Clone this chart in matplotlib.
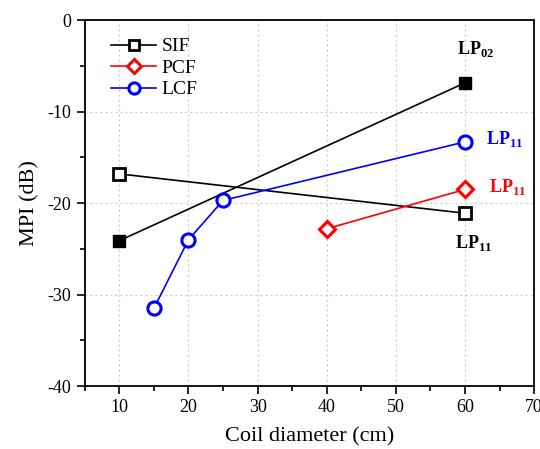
import matplotlib
matplotlib.use("Agg")
import matplotlib.pyplot as plt
from matplotlib.ticker import MultipleLocator

plt.rcParams['font.family'] = ['Liberation Serif', 'DejaVu Serif']
plt.rcParams['mathtext.fontset'] = 'custom'
plt.rcParams['mathtext.rm'] = 'Liberation Serif'
plt.rcParams['mathtext.bf'] = 'Liberation Serif:bold'
plt.rcParams['axes.unicode_minus'] = False

sif_open_x = [10, 60]
sif_open_y = [-16.8, -21.1]
sif_fill_x = [10, 60]
sif_fill_y = [-24.1, -6.85]
pcf_x = [40, 60]
pcf_y = [-22.8, -18.5]
lcf_x = [15, 20, 25, 60]
lcf_y = [-31.5, -24.0, -19.7, -13.3]

fig = plt.figure(figsize=(5.4, 4.49), dpi=100)
ax = fig.add_axes([0.157, 0.140, 0.832, 0.815])

ax.plot(sif_open_x, sif_open_y, color='black', lw=1.2, marker='s', ms=8,
        mfc='white', mec='black', mew=2, label='SIF', zorder=3)
ax.plot(sif_fill_x, sif_fill_y, color='black', lw=1.2, marker='s', ms=9,
        mfc='black', mec='black', zorder=3)
ax.plot(pcf_x, pcf_y, color='red', lw=1.2, marker='D', ms=8,
        mfc='white', mec='red', mew=2.2, label='PCF', zorder=3)
ax.plot(lcf_x, lcf_y, color='blue', lw=1.2, marker='o', ms=9.5,
        mfc='white', mec='blue', mew=2.2, label='LCF', zorder=3)

ax.set_xlim(5, 70)
ax.set_ylim(-40, 0)
ax.xaxis.set_major_locator(MultipleLocator(10))
ax.xaxis.set_minor_locator(MultipleLocator(5))
ax.yaxis.set_major_locator(MultipleLocator(10))
ax.yaxis.set_minor_locator(MultipleLocator(5))
ax.tick_params(which='both', direction='out', top=False, right=False, labelsize=13, width=1.2)
ax.tick_params(which='major', length=6)
ax.tick_params(which='minor', length=3.5)
for s in ax.spines.values():
    s.set_linewidth(1.3)
ax.grid(True, which='major', color='#c8c8c8', ls=(0, (1.5, 2.5)), lw=0.9)
ax.set_axisbelow(True)

ax.set_xlabel('Coil diameter (cm)', fontsize=16, labelpad=8)
ax.set_ylabel('MPI (dB)', fontsize=16, labelpad=6)

leg = ax.legend(loc='upper left', bbox_to_anchor=(0.02, 1.0), frameon=False,
                fontsize=14, handlelength=2.3, handletextpad=0.3, labelspacing=0.2,
                markerscale=0.85)

ax.text(61.5, -3.2, r'$\mathbf{LP}_{\mathbf{02}}$', color='black', fontsize=13, ha='center', va='center')
ax.text(63, -13.0, r'$\mathbf{LP}_{\mathbf{11}}$', color='blue', fontsize=13, ha='left', va='center')
ax.text(63.5, -18.2, r'$\mathbf{LP}_{\mathbf{11}}$', color='red', fontsize=13, ha='left', va='center')
ax.text(61.3, -24.3, r'$\mathbf{LP}_{\mathbf{11}}$', color='black', fontsize=13, ha='center', va='center')

fig.savefig('out.png', dpi=100)
